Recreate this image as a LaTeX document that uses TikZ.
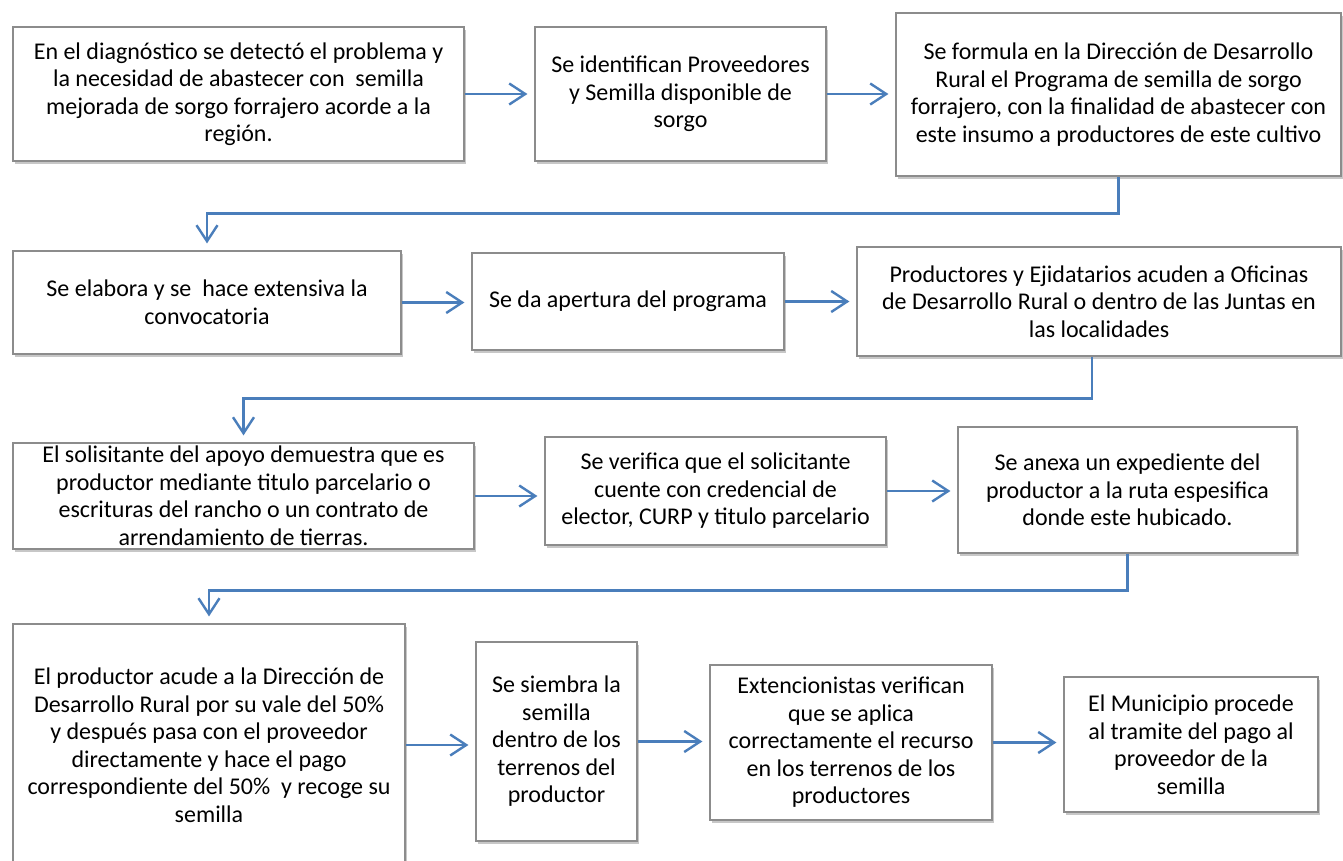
\documentclass[tikz,border=0pt]{standalone}
\usepackage{fontspec}
\setmainfont{Carlito}
\usetikzlibrary{arrows.meta,shadows}
\definecolor{arrowblue}{RGB}{74,126,187}
\definecolor{boxline}{RGB}{140,140,140}
\tikzset{
  stepbox/.style={draw=boxline, line width=1.2pt, fill=white, inner sep=0pt,
    align=center, font=\fontsize{24}{27.5}\selectfont,
    drop shadow={shadow xshift=1.5pt, shadow yshift=-3pt, fill=black, opacity=0.22}},
  conn/.style={draw=arrowblue, line width=2.4pt,
    -{Straight Barb[length=16pt,width=21pt,line width=2.4pt]}, shorten >=7pt}
}
\begin{document}
\begin{tikzpicture}[x=1pt,y=-1pt]
\useasboundingbox (0,0) rectangle (1343,861);
\clip (0,0) rectangle (1343,861);
\fill[white] (0,0) rectangle (1343,861);

\node[stepbox, minimum width=451, minimum height=134] (A) at (238.5,94)
 {En el diagnóstico se detectó el problema y\\la necesidad de abastecer con~~semilla\\mejorada de sorgo forrajero acorde a la\\región.};
\node[stepbox, minimum width=291, minimum height=134] (B) at (680.5,94)
 {Se identifican Proveedores\\y Semilla disponible de\\sorgo};
\node[stepbox, minimum width=445, minimum height=163] (C) at (1118.5,94.5)
 {Se formula en la Dirección de Desarrollo\\Rural el Programa de semilla de sorgo\\forrajero, con la finalidad de abastecer con\\este insumo a productores de este cultivo};

\node[stepbox, minimum width=388, minimum height=103] (D) at (207,302.5)
 {Se elabora y se~~hace extensiva la\\convocatoria};
\node[stepbox, minimum width=312, minimum height=97] (E) at (628,301.5)
 {Se da apertura del programa};
\node[stepbox, minimum width=484, minimum height=109] (F) at (1099,301.5)
 {Productores y Ejidatarios acuden a Oficinas\\de Desarrollo Rural o dentro de las Juntas en\\las localidades};

\node[stepbox, minimum width=461, minimum height=106] (G) at (243.5,496)
 {El solisitante del apoyo demuestra que es\\productor mediante titulo parcelario o\\escrituras del rancho o un contrato de\\arrendamiento de tierras.};
\node[stepbox, minimum width=341, minimum height=108] (H) at (715.5,491)
 {Se verifica que el solicitante\\cuente con credencial de\\elector, CURP y titulo parcelario};
\node[stepbox, minimum width=339, minimum height=126] (I) at (1127.5,490)
 {Se anexa un expediente del\\productor a la ruta espesifica\\donde este hubicado.};

\node[stepbox, minimum width=392, minimum height=242] (J) at (209,745)
 {El productor acude a la Dirección de\\Desarrollo Rural por su vale del 50\%\\y después pasa con el proveedor\\directamente y hace el pago\\correspondiente del 50\%~~y recoge su\\semilla};
\node[stepbox, minimum width=161, minimum height=199] (K) at (556.5,741.5)
 {Se siembra la\\semilla\\dentro de los\\terrenos del\\productor};
\node[stepbox, minimum width=282, minimum height=155] (L) at (851,742.5)
 {Extencionistas verifican\\que se aplica\\correctamente el recurso\\en los terrenos de los\\productores};
\node[stepbox, minimum width=254, minimum height=135] (M) at (1191,744.5)
 {El Municipio procede\\al tramite del pago al\\proveedor de la\\semilla};

\draw[conn] (A.east) -- (A.east -| B.west);
\draw[conn] (B.east) -- (B.east -| C.west);
\draw[conn] (C.south) -- ++(0,37) -| (D.north);
\draw[conn] (D.east) -- (D.east -| E.west);
\draw[conn] (E.east) -- (E.east -| F.west);
\draw[conn] ([xshift=-7pt]F.south) -- ++(0,42) -| (G.north);
\draw[conn] (G.east) -- (G.east -| H.west);
\draw[conn] (H.east) -- (H.east -| I.west);
\draw[conn] (I.south) -- ++(0,37) -| (J.north);
\draw[conn] (J.east) -- (J.east -| K.west);
\draw[conn] (K.east) -- (K.east -| L.west);
\draw[conn] (L.east) -- (L.east -| M.west);
\end{tikzpicture}
\end{document}
